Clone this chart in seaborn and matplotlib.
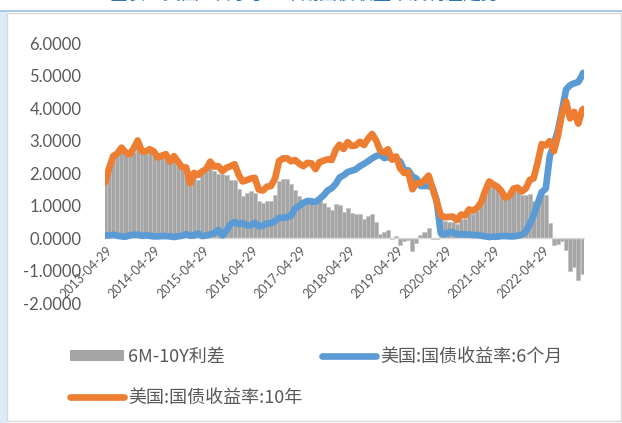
import matplotlib
matplotlib.use('Agg')
import matplotlib.pyplot as plt
import matplotlib.dates as mdates
import matplotlib.transforms as mtransforms
from matplotlib.patches import Rectangle, Patch
from matplotlib.lines import Line2D
import seaborn as sns
import pandas as pd

sns.set_theme(style='white')
plt.rcParams['font.family'] = ['Lato', 'Noto Sans CJK SC', 'DejaVu Sans']

# ---------------- data ----------------
start_date = '2013-04-29'
end_date = '2023-03-08'
month_ends = list(pd.date_range('2013-05-31', '2023-02-28', freq='ME'))
dates = pd.DatetimeIndex([pd.Timestamp(start_date)] + month_ends + [pd.Timestamp(end_date)])

y6m = [
    0.08, 0.08, 0.10, 0.07, 0.05, 0.04, 0.08, 0.10, 0.10,
    0.07, 0.08, 0.07, 0.05, 0.05, 0.06, 0.06, 0.05, 0.03, 0.05, 0.07, 0.12,
    0.07, 0.08, 0.14, 0.06, 0.08, 0.11, 0.15, 0.25, 0.08, 0.23, 0.42, 0.49,
    0.43, 0.46, 0.39, 0.39, 0.47, 0.36, 0.38, 0.45, 0.45, 0.52, 0.62, 0.62,
    0.64, 0.69, 0.91, 0.99, 1.08, 1.14, 1.13, 1.10, 1.20, 1.31, 1.46, 1.53,
    1.67, 1.86, 1.93, 2.03, 2.07, 2.11, 2.21, 2.28, 2.36, 2.45, 2.52, 2.56,
    2.46, 2.49, 2.44, 2.44, 2.35, 2.09, 2.08, 1.89, 1.83, 1.60, 1.60, 1.60,
    1.54, 1.16, 0.15, 0.11, 0.17, 0.18, 0.11, 0.12, 0.11, 0.11, 0.09, 0.09,
    0.07, 0.05, 0.03, 0.04, 0.04, 0.06, 0.06, 0.05, 0.05, 0.07, 0.10, 0.19,
    0.43, 0.69, 1.06, 1.41, 1.52, 2.51, 2.89, 3.32, 3.92, 4.57, 4.70, 4.76,
    4.80, 5.00, 5.08,
]

y10y = [
    1.70, 2.16, 2.52, 2.60, 2.78, 2.64, 2.57, 2.75, 3.00,
    2.67, 2.66, 2.73, 2.67, 2.48, 2.53, 2.58, 2.35, 2.52, 2.35, 2.18, 2.17,
    1.68, 2.00, 1.94, 2.05, 2.12, 2.35, 2.20, 2.21, 2.06, 2.16, 2.21, 2.27,
    1.94, 1.74, 1.78, 1.83, 1.85, 1.49, 1.46, 1.58, 1.60, 1.84, 2.37, 2.45,
    2.45, 2.36, 2.40, 2.29, 2.21, 2.31, 2.30, 2.12, 2.33, 2.38, 2.42, 2.40,
    2.72, 2.87, 2.74, 2.95, 2.83, 2.85, 2.96, 2.86, 3.05, 3.20, 3.01, 2.69,
    2.63, 2.73, 2.41, 2.51, 2.14, 2.00, 2.02, 1.50, 1.68, 1.69, 1.78, 1.92,
    1.51, 1.13, 0.70, 0.64, 0.65, 0.66, 0.55, 0.72, 0.69, 0.88, 0.84, 0.93,
    1.11, 1.44, 1.74, 1.65, 1.58, 1.45, 1.24, 1.30, 1.52, 1.55, 1.43, 1.52,
    1.79, 1.83, 2.32, 2.89, 2.85, 2.98, 2.67, 3.15, 3.83, 4.20, 3.68, 3.88,
    3.52, 3.92, 3.97,
]

tick_labels = ['2013-04-29', '2014-04-29', '2015-04-29', '2016-04-29', '2017-04-29',
               '2018-04-29', '2019-04-29', '2020-04-29', '2021-04-29', '2022-04-29']
y_ticks = [-2, -1, 0, 1, 2, 3, 4, 5, 6]

label_spread = '6M-10Y利差'
label_6m = '美国:国债收益率:6个月'
label_10y = '美国:国债收益率:10年'
title_text = '图表：美国6个月与10年期国债收益率及利差走势'

df = pd.DataFrame({'date': dates, 'y6m': y6m, 'y10y': y10y})
df['spread'] = df['y10y'] - df['y6m']

# ---------------- colours ----------------
c_bar = '#A5A5A5'
c_blue = '#5B9BD5'
c_orange = '#ED7D31'
c_text = '#595959'

W, H = 622, 423
fig = plt.figure(figsize=(W / 100, H / 100), dpi=100)
fig.patch.set_facecolor('white')

# page frame decorations (drawn behind the axes)
fig.patches.append(Rectangle((0, 0), 7 / W, 1 - 12 / H, transform=fig.transFigure,
                             facecolor='#DDEBF7', edgecolor='none', zorder=-5))
fig.patches.append(Rectangle((0, 1 - 12 / H), 1, 2 / H, transform=fig.transFigure,
                             facecolor='#A9C8EA', edgecolor='none', zorder=-5))
fig.patches.append(Rectangle((7.5 / W, 1 - 421 / H), 613 / W, 408 / H, transform=fig.transFigure,
                             facecolor='none', edgecolor='#D9D9D9', lw=1.0, zorder=-5))

# title cut off at the top edge, as in the screenshot
fig.text(0.49, 1 - 4.5 / H, title_text, color='#2E75B6', fontsize=13, ha='center', va='bottom',
         family=['Noto Sans CJK SC', 'DejaVu Sans'])

ax = fig.add_axes([105 / W, 1 - 303 / H, (584 - 105) / W, 260 / H])
ax.set_facecolor('none')
ax.set_zorder(2)

ax.bar(df['date'], df['spread'], width=31, color=c_bar, edgecolor='#C4C4C4',
       linewidth=0.5, zorder=1)
sns.lineplot(data=df, x='date', y='y6m', ax=ax, color=c_blue, linewidth=4.8,
             solid_capstyle='round', solid_joinstyle='round', zorder=3, legend=False)
sns.lineplot(data=df, x='date', y='y10y', ax=ax, color=c_orange, linewidth=4.8,
             solid_capstyle='round', solid_joinstyle='round', zorder=4, legend=False)

ax.set_xlim(pd.Timestamp('2013-04-29'), pd.Timestamp('2023-03-15'))
ax.set_ylim(-2, 6)
ax.set_xlabel('')
ax.set_ylabel('')
ax.grid(False)

ax.set_yticks(y_ticks)
ax.set_yticklabels([f'{v:.4f}' for v in y_ticks])
ax.tick_params(axis='y', length=0, pad=17, labelsize=12, labelcolor=c_text)

tick_dates = [pd.Timestamp(t) for t in tick_labels]
ax.set_xticks(tick_dates)
ax.tick_params(axis='x', length=4, width=0.8, color='#D9D9D9', direction='out',
               labelbottom=False)
# rotated date labels hanging from the zero axis
offset = mtransforms.ScaledTranslation(1 / 100, -6 / 100, fig.dpi_scale_trans)
for d, t in zip(tick_dates, tick_labels):
    ax.text(mdates.date2num(d), 0, t, transform=ax.transData + offset,
            rotation=45, ha='right', va='top', rotation_mode='anchor',
            fontsize=9, color=c_text, clip_on=False)

for s in ['top', 'right', 'left']:
    ax.spines[s].set_visible(False)
ax.spines['bottom'].set_position(('data', 0))
ax.spines['bottom'].set_color('#D9D9D9')
ax.spines['bottom'].set_linewidth(1.0)
ax.spines['bottom'].set_zorder(2)

handles = [
    Patch(facecolor=c_bar, edgecolor='none'),
    Line2D([0], [0], color=c_orange, lw=4.8, solid_capstyle='round'),
    Line2D([0], [0], color=c_blue, lw=4.8, solid_capstyle='round'),
]
labels = [label_spread, label_10y, label_6m]
leg = fig.legend(handles, labels, ncol=2, loc='upper left',
                 bbox_to_anchor=(70 / W, 1 - 348 / H), frameon=False,
                 prop={'family': ['Noto Sans CJK SC', 'DejaVu Sans'], 'size': 13},
                 handlelength=3.0, handleheight=0.6, handletextpad=0.2,
                 columnspacing=1.12, labelspacing=1.28, borderpad=0, borderaxespad=0)
for t in leg.get_texts():
    t.set_color(c_text)

fig.savefig('out.png', dpi=100, facecolor='white')
